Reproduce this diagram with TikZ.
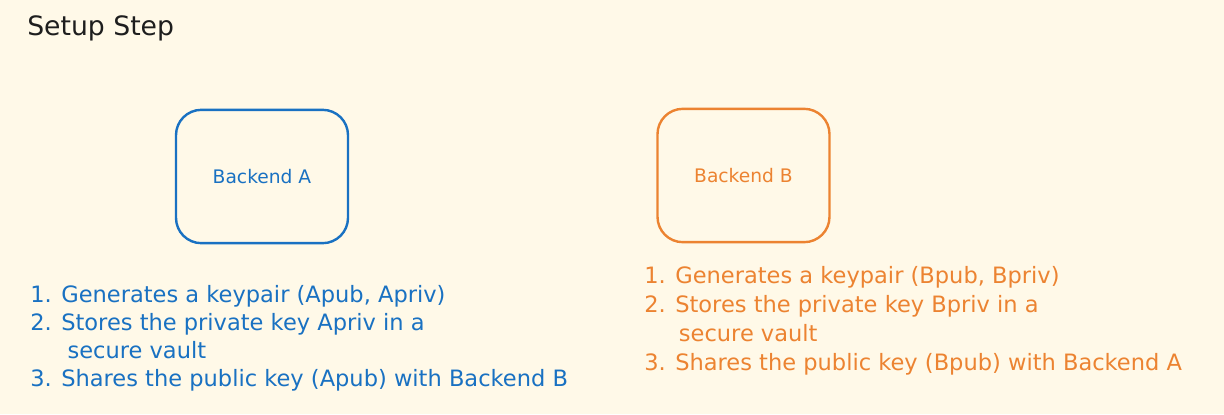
\documentclass[tikz,border=0pt]{standalone}
\usepackage{fontspec}
\setmainfont{DejaVu Sans}
\usetikzlibrary{positioning}
\definecolor{paper}{HTML}{FFF9E8}
\definecolor{ablue}{HTML}{1971C2}
\definecolor{borange}{HTML}{EC8331}
\definecolor{ink}{HTML}{1E1E1E}
\tikzset{
  backend/.style={draw, line width=1.8pt, rounded corners=19pt, minimum width=129pt, minimum height=100pt, font=\fontsize{14}{16}\selectfont},
  steps/.style={anchor=north west, inner sep=0pt, align=left, font=\fontsize{16.9}{21}\selectfont}
}
\begin{document}
\begin{tikzpicture}[x=0.75pt,y=-0.75pt]
		\fill[paper] (0,0) rectangle (1224,414);
		\useasboundingbox (0,0) rectangle (1224,414);
		\node[anchor=west, inner sep=0pt, text=ink, font=\fontsize{20}{24}\selectfont] (title) at (27,28) {Setup Step};
		\node[backend, ablue] (backA) at (262,176.5) {Backend A};
		\node[backend, borange] (backB) at (743.5,175.5) {Backend B};
		\node[steps, text=ablue] (stepsA) at (30,285) {1. Generates a keypair (Apub, Apriv)\\2. Stores the private key Apriv in a\\\hspace*{28pt}secure vault\\3. Shares the public key (Apub) with Backend B};
		\node[steps, text=borange, font=\fontsize{16.9}{21.6}\selectfont] (stepsB) at (644,266.5) {1. Generates a keypair (Bpub, Bpriv)\\2. Stores the private key Bpriv in a\\\hspace*{26pt}secure vault\\3. Shares the public key (Bpub) with Backend A};
	\end{tikzpicture}
\end{document}
